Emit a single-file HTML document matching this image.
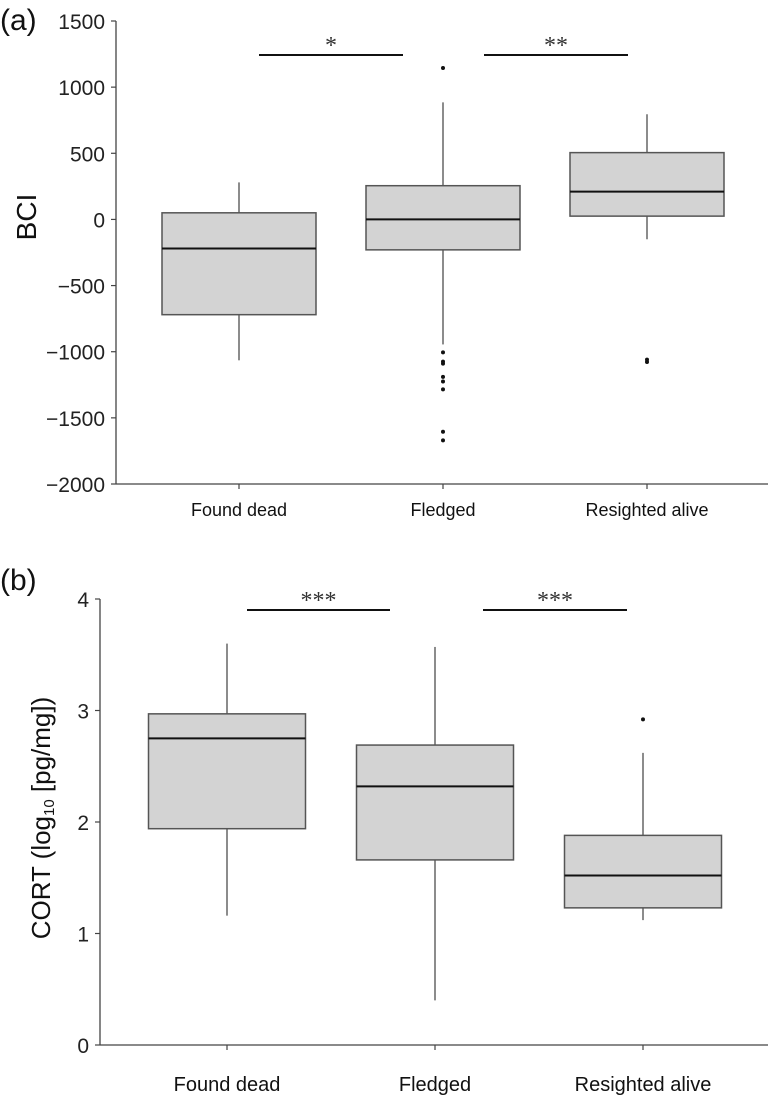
<!DOCTYPE html>
<html><head><meta charset="utf-8"><style>
body{margin:0;background:#fff;}
svg{display:block;font-family:"Liberation Sans",Arial,sans-serif;}
</style></head><body>
<svg id="chart" width="770" height="1097" viewBox="0 0 770 1097"></svg>
<script>
const categories = ["Found dead","Fledged","Resighted alive"];
// Panel a (BCI)
const bciWhiskerHigh = [280, 885, 795];
const bciQ3 = [50, 255, 505];
const bciMedian = [-220, 0, 210];
const bciQ1 = [-720, -230, 25];
const bciWhiskerLow = [-1065, -945, -150];
const bciOutliers = [[], [1145,-1005,-1075,-1090,-1190,-1225,-1285,-1605,-1670], [-1060,-1078]];
const bciTicks = [1500,1000,500,0,-500,-1000,-1500,-2000];
// Panel b (CORT)
const cortWhiskerHigh = [3.6, 3.57, 2.62];
const cortQ3 = [2.97, 2.69, 1.88];
const cortMedian = [2.75, 2.32, 1.52];
const cortQ1 = [1.94, 1.66, 1.23];
const cortWhiskerLow = [1.16, 0.40, 1.12];
const cortOutliers = [[], [], [2.92]];
const cortTicks = [4,3,2,1,0];

const NS="http://www.w3.org/2000/svg";
const svg=document.getElementById('chart');
function mk(tag,attrs,parent){const e=document.createElementNS(NS,tag);for(const k in attrs)e.setAttribute(k,attrs[k]);(parent||svg).appendChild(e);return e;}
function txt(s,attrs,parent){const e=mk('text',attrs,parent);e.textContent=s;return e;}

function panel(cfg){
  const g=mk('g',{});
  
  
  const y=v=>cfg.y0+(v-cfg.vmin)*(cfg.y1-cfg.y0)/(cfg.vmax-cfg.vmin);
  const x=i=>cfg.xc0+i*cfg.dx;
  const ya=mk('line',{x1:cfg.ax,y1:y(cfg.vmax),x2:cfg.ax,y2:cfg.y0,stroke:'#444','stroke-width':1.3},g);
  
  
  const xa=mk('line',{x1:cfg.ax,y1:cfg.y0,x2:768,y2:cfg.y0,stroke:'#444','stroke-width':1.3},g);
  
  
  cfg.ticks.forEach(t=>{
    mk('line',{x1:cfg.ax-5,y1:y(t),x2:cfg.ax,y2:y(t),stroke:'#444','stroke-width':1.2},g);
    const l=txt(String(t).replace('-','\u2212'),{x:cfg.ax-11,y:y(t)+8,'text-anchor':'end','font-size':cfg.tickFs,fill:'#222'},g);
    
    
  });
  categories.forEach((c,i)=>{
    const cx=x(i),hw=cfg.bw/2;
    mk('line',{x1:cx,y1:cfg.y0,x2:cx,y2:cfg.y0+5,stroke:'#444','stroke-width':1.2},g);
    const l=txt(c,{x:cx,y:cfg.y0+cfg.labOff,'text-anchor':'middle','font-size':cfg.catFs,fill:'#111'},g);
    
    
    const w1=mk('line',{x1:cx,y1:y(cfg.wh[i]),x2:cx,y2:y(cfg.q3[i]),stroke:'#666','stroke-width':1.5},g);
    
    
    const w2=mk('line',{x1:cx,y1:y(cfg.q1[i]),x2:cx,y2:y(cfg.wl[i]),stroke:'#666','stroke-width':1.5},g);
    
    
    const b=mk('rect',{x:cx-hw,y:y(cfg.q3[i]),width:cfg.bw,height:y(cfg.q1[i])-y(cfg.q3[i]),fill:'#d3d3d3',stroke:'#555','stroke-width':1.5},g);
    
    
    const m=mk('line',{x1:cx-hw,y1:y(cfg.med[i]),x2:cx+hw,y2:y(cfg.med[i]),stroke:'#111','stroke-width':2},g);
    
    
    cfg.out[i].forEach(v=>{
      const p=mk('circle',{cx:cx,cy:y(v),r:2,fill:'#111'},g);
      
      
    });
  });
  cfg.sig.forEach(s=>{
    const l=mk('line',{x1:s[0],y1:cfg.sigY,x2:s[1],y2:cfg.sigY,stroke:'#111','stroke-width':2},g);
    
    
    const t=txt(s[2],{x:(s[0]+s[1])/2,y:cfg.sigY-2,'text-anchor':'middle','font-size':24,fill:'#333','font-family':'Liberation Serif, serif'},g);
    
    
  });
  const pl=txt(cfg.panelLabel,{x:0,y:cfg.plY,'font-size':30,fill:'#111'},g);
  
  
  return {g,y};
}

panel({name:'panel-a-bci',vmin:-2000,vmax:1500,y0:484,y1:21,ax:116,xc0:239,dx:204,bw:154,
  ticks:bciTicks,wh:bciWhiskerHigh,q3:bciQ3,med:bciMedian,q1:bciQ1,wl:bciWhiskerLow,out:bciOutliers,
  sig:[[259,403,'*'],[484,628,'**']],sigY:55,tickFs:21,catFs:18,labOff:32,panelLabel:'(a)',plY:30});
const ta=txt('BCI',{x:0,y:0,'font-size':28,fill:'#111','text-anchor':'middle',transform:'translate(36,217) rotate(-90)'});



panel({name:'panel-b-cort',vmin:0,vmax:4,y0:1045,y1:599,ax:100,xc0:227,dx:208,bw:157,
  ticks:cortTicks,wh:cortWhiskerHigh,q3:cortQ3,med:cortMedian,q1:cortQ1,wl:cortWhiskerLow,out:cortOutliers,
  sig:[[247,390,'***'],[483,627,'***']],sigY:610,tickFs:21,catFs:20,labOff:46,panelLabel:'(b)',plY:590});
const tb=mk('text',{x:0,y:0,'font-size':26,fill:'#111','text-anchor':'middle',transform:'translate(50,818) rotate(-90)'});


tb.innerHTML='CORT (log<tspan font-size="15" dy="4">10</tspan><tspan dy="-4"> [pg/mg])</tspan>';
</script>
</body></html>
